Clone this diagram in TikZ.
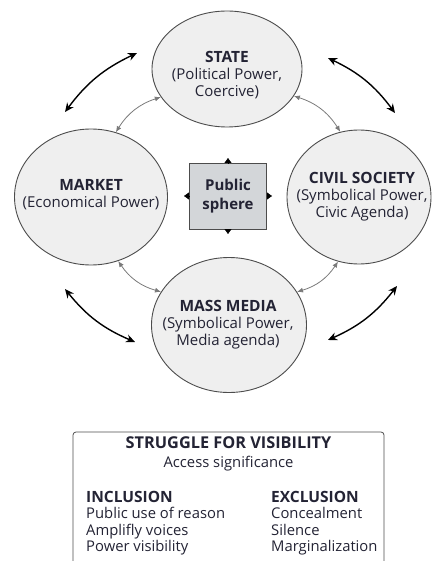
\documentclass[tikz,border=0pt]{standalone}
\usepackage{fontspec}
\setmainfont{Open Sans}
\usetikzlibrary{shapes.geometric,arrows.meta}
\definecolor{ink}{HTML}{232334}
\definecolor{ballfill}{HTML}{EFEFEF}
\definecolor{ringgray}{HTML}{4C4C4C}
\definecolor{arcgray}{HTML}{7A7A7A}
\definecolor{boxgray}{HTML}{D3D6D9}
\newcommand{\headfont}{\fontsize{15.5}{17}\selectfont\bfseries}
\begin{document}
\begin{tikzpicture}[x=1pt,y=-1pt,
  sphere/.style={ellipse, draw=ringgray, fill=ballfill, line width=0.9pt, inner sep=0pt},
  lbl/.style={align=center, text=ink, font=\fontsize{15}{17}\selectfont, inner sep=0pt},
  flow/.style={draw=arcgray, line width=0.8pt,
    {Latex[length=6pt,width=5pt]}-{Latex[length=6pt,width=5pt]}},
  tie/.style={draw=black, line width=1.4pt,
    {Stealth[length=9pt,width=8pt]}-{Stealth[length=9pt,width=8pt]}},
  nub/.style={draw=black, -{Triangle[length=5pt,width=7pt]}},
  row/.style={anchor=base west, text=ink, font=\fontsize{14.8}{16}\selectfont, inner sep=0pt},
]
\useasboundingbox (0,0) rectangle (435,561);

% the four spheres of power
\node[sphere, minimum width=150, minimum height=116] (state) at (227,69) {};
\node[sphere, minimum width=153, minimum height=136] (market) at (91,197) {};
\node[sphere, minimum width=144, minimum height=134] (civil) at (359,197) {};
\node[sphere, minimum width=155, minimum height=135] (media) at (229,325) {};

\node[lbl] (stateT) at (227,75) {{\headfont STATE}\\(Political Power,\\Coercive)};
\node[lbl] (marketT) at (91,195) {{\headfont MARKET}\\(Economical Power)};
\node[lbl] (civilT) at (362,197) {{\headfont CIVIL SOCIETY}\\(Symbolical Power,\\Civic Agenda)};
\node[lbl] (mediaT) at (228,325) {{\headfont MASS MEDIA}\\(Symbolical Power,\\Media agenda)};

% public sphere in the middle
\node[draw=ringgray, fill=boxgray, line width=0.9pt, minimum width=77, minimum height=66,
  align=center, text=ink, font=\fontsize{15}{19}\selectfont\bfseries] (ps) at (228,196) {Public\\sphere};
\coordinate (psN) at (228,158);
\coordinate (psS) at (228,234);
\coordinate (psW) at (184,196);
\coordinate (psE) at (272,196);
\draw[nub] (ps.north) -- (psN);
\draw[nub] (ps.south) -- (psS);
\draw[nub] (ps.west) -- (psW);
\draw[nub] (ps.east) -- (psE);

% grey ring linking neighbouring spheres
\draw[flow] (market.69) to[bend left=20] (state.203);
\draw[flow] (state.-22) to[bend left=20] (civil.106);
\draw[flow] (civil.252) to[bend left=20] (media.26);
\draw[flow] (media.154) to[bend left=20] (market.-67);

% outer two-way arrows
\coordinate (tl1) at (65,112);  \coordinate (tl2) at (137,53);
\coordinate (tr1) at (328,58);  \coordinate (tr2) at (395,113);
\coordinate (bl1) at (65,289);  \coordinate (bl2) at (135,342);
\coordinate (br1) at (397,286); \coordinate (br2) at (328,340);
\draw[tie] (tl1) to[bend left=14] (tl2);
\draw[tie] (tr1) to[bend left=14] (tr2);
\draw[tie] (bl1) to[bend right=14] (bl2);
\draw[tie] (br1) to[bend left=14] (br2);

% struggle for visibility panel (its lower edge runs off the page)
\node[draw=ringgray, line width=0.8pt, rounded corners=3pt, minimum width=311, minimum height=134] (panel) at (228.5,499) {};
\node[anchor=base, text=ink, inner sep=0pt, font=\fontsize{16.3}{18}\selectfont\bfseries] (title) at (228.5,448) {STRUGGLE FOR VISIBILITY};
\node[anchor=base, text=ink, inner sep=0pt, font=\fontsize{14.8}{16}\selectfont] (sub) at (228.5,467) {Access significance};
\node[row, font=\fontsize{15.5}{16}\selectfont\bfseries] (inc) at (86,502) {INCLUSION};
\node[row] (inc1) at (86,518) {Public use of reason};
\node[row] (inc2) at (86,535) {Amplifly voices};
\node[row] (inc3) at (86,551) {Power visibility};
\node[row, font=\fontsize{15.5}{16}\selectfont\bfseries] (exc) at (271,502) {EXCLUSION};
\node[row] (exc1) at (271,518) {Concealment};
\node[row] (exc2) at (271,535) {Silence};
\node[row] (exc3) at (271,551) {Marginalization};
\end{tikzpicture}
\end{document}
